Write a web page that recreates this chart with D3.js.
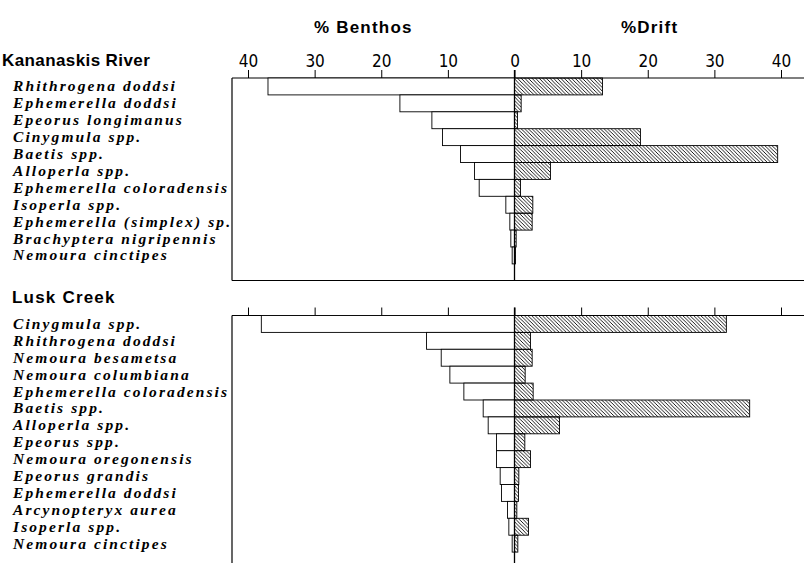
<!DOCTYPE html>
<html>
<head>
<meta charset="utf-8">
<script src="https://cdn.jsdelivr.net/npm/d3@7"></script>
<style>
  body { margin: 0; background: #fff; }
  svg { display: block; }
</style>
</head>
<body>
<div id="chart"></div>
<script>
// Kananaskis River
const kanTaxa = ["Rhithrogena doddsi", "Ephemerella doddsi", "Epeorus longimanus", "Cinygmula spp.",
    "Baetis spp.", "Alloperla spp.", "Ephemerella coloradensis", "Isoperla spp.",
    "Ephemerella (simplex) sp.", "Brachyptera nigripennis", "Nemoura cinctipes"];
const kanBenthos = [37, 17.2, 12.4, 10.8, 8.1, 6.0, 5.3, 1.3, 0.7, 0.55, 0.35];
const kanDrift = [13.2, 1.0, 0.45, 18.9, 39.5, 5.4, 0.9, 2.75, 2.65, 0.25, 0.15];

// Lusk Creek
const luskTaxa = ["Cinygmula spp.", "Rhithrogena doddsi", "Nemoura besametsa", "Nemoura columbiana",
    "Ephemerella coloradensis", "Baetis spp.", "Alloperla spp.", "Epeorus spp.",
    "Nemoura oregonensis", "Epeorus grandis", "Ephemerella doddsi", "Arcynopteryx aurea",
    "Isoperla spp.", "Nemoura cinctipes"];
const luskBenthos = [38, 13.2, 11.0, 9.7, 7.6, 4.7, 3.95, 2.7, 2.7, 2.15, 1.95, 1.05, 0.85, 0.35];
const luskDrift = [31.8, 2.4, 2.65, 1.6, 2.8, 35.3, 6.75, 1.55, 2.4, 0.65, 0.6, 0.35, 2.1, 0.5];

const tickValues = [0, 10, 20, 30, 40];

const width = 804, height = 563;
const zeroX = 514.5;
const unit40 = 266.5;
const boxLeft = 232;
const rowH = 16.9;

const xBenthos = d3.scaleLinear().domain([0, 40]).range([zeroX, zeroX - unit40]);
const xDrift = d3.scaleLinear().domain([0, 40]).range([zeroX, zeroX + unit40]);

const svg = d3.select("#chart").append("svg")
    .attr("width", width).attr("height", height);

// hatch for drift bars
svg.append("defs").append("pattern")
    .attr("id", "hatch")
    .attr("patternUnits", "userSpaceOnUse")
    .attr("width", 3.6).attr("height", 3.6)
    .append("path")
    .attr("d", "M0,0L3.6,3.6M-1,2.6L1,4.6M2.6,-1L4.6,1")
    .attr("stroke", "#000").attr("stroke-width", 0.9);

function header(x, text) {
    svg.append("text")
        .attr("x", x).attr("y", 33)
        .style("font-family", "'Liberation Sans', Arial, sans-serif")
        .style("font-weight", "bold")
        .style("font-size", "17px")
        .style("letter-spacing", "1.2px")
        .text(text);
}
header(314, "% Benthos");
header(621, "%Drift");

function panel(title, titleX, titleY, taxa, benthos, drift, axisY, bottomY, showBottom, showLabels) {
    var g = svg.append("g");
    var y = d3.scaleBand().domain(taxa).range([axisY, axisY + rowH * taxa.length]);

    g.append("text")
        .attr("x", titleX).attr("y", titleY)
        .style("font-family", "'Liberation Sans', Arial, sans-serif")
        .style("font-weight", "bold")
        .style("font-size", "17px")
        .style("letter-spacing", titleX < 5 ? "0.4px" : "1.2px")
        .text(title);

    // axes
    var axL = d3.axisTop(xBenthos).tickValues(tickValues).tickSize(8).tickPadding(3)
        .tickFormat(showLabels ? d3.format("d") : "");
    var axR = d3.axisTop(xDrift).tickValues(tickValues.slice(1)).tickSize(8).tickPadding(3)
        .tickFormat(showLabels ? d3.format("d") : "");
    [axL, axR].forEach(function(ax) {
        var a = g.append("g").attr("transform", "translate(0," + axisY + ")").call(ax);
        a.select(".domain").remove();
        a.selectAll("line").attr("stroke", "#000").attr("stroke-width", 1);
        a.selectAll("text")
            .style("font-family", "'Liberation Sans Narrow', 'DejaVu Sans Condensed', sans-serif")
            .style("font-size", "17px")
            .attr("fill", "#000");
    });

    // frame
    g.append("line").attr("x1", boxLeft).attr("x2", width).attr("y1", axisY).attr("y2", axisY)
        .attr("stroke", "#000").attr("stroke-width", 1.2);
    g.append("line").attr("x1", boxLeft).attr("x2", boxLeft).attr("y1", axisY).attr("y2", bottomY)
        .attr("stroke", "#000").attr("stroke-width", 1.2);
    if (showBottom) {
        g.append("line").attr("x1", boxLeft).attr("x2", width).attr("y1", bottomY).attr("y2", bottomY)
            .attr("stroke", "#000").attr("stroke-width", 1.2);
    }

    // benthos bars
    g.selectAll(".b").data(taxa).enter().append("rect")
        .attr("x", function(d, i) { return xBenthos(benthos[i]); })
        .attr("y", function(d) { return y(d); })
        .attr("width", function(d, i) { return xBenthos(0) - xBenthos(benthos[i]); })
        .attr("height", y.bandwidth())
        .attr("fill", "#fff").attr("stroke", "#000").attr("stroke-width", 0.9);

    // drift bars
    g.selectAll(".d").data(taxa).enter().append("rect")
        .attr("x", xDrift(0))
        .attr("y", function(d) { return y(d); })
        .attr("width", function(d, i) { return xDrift(drift[i]) - xDrift(0); })
        .attr("height", y.bandwidth())
        .attr("fill", "url(#hatch)").attr("stroke", "#000").attr("stroke-width", 0.9);

    // zero line
    g.append("line").attr("x1", zeroX).attr("x2", zeroX).attr("y1", axisY - 8).attr("y2", bottomY)
        .attr("stroke", "#000").attr("stroke-width", 1.3);

    // taxa labels
    g.selectAll(".lab").data(taxa).enter().append("text")
        .attr("x", 13)
        .attr("y", function(d) { return y(d) + y.bandwidth() / 2 + 5; })
        .style("font-family", "'Liberation Serif', 'Times New Roman', serif")
        .style("font-style", "italic")
        .style("font-weight", "bold")
        .style("font-size", "15.5px")
        .style("letter-spacing", "2.1px")
        .text(function(d) { return d; });
}

panel("Kananaskis River", 2, 66, kanTaxa, kanBenthos, kanDrift, 78, 280.5, true, true);
panel("Lusk Creek", 12, 303, luskTaxa, luskBenthos, luskDrift, 315.5, 563, false, false);
</script>
</body>
</html>
